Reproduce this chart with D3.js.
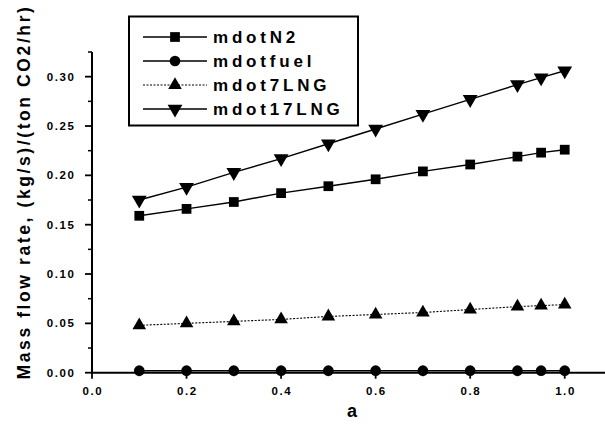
<html>
<head>
<meta charset="utf-8" />
<script src="https://cdn.jsdelivr.net/npm/d3@7"></script>
<style>
body { margin: 0; background: #fff; }
text { font-family: Arial, "Liberation Sans", sans-serif; fill: #000; }
</style>
</head>
<body>
<script>
var aVals = [0.1, 0.2, 0.3, 0.4, 0.5, 0.6, 0.7, 0.8, 0.9, 0.95, 1.0];
var mdotN2 = [0.159, 0.166, 0.173, 0.182, 0.189, 0.196, 0.204, 0.211, 0.219, 0.223, 0.226];
var mdotfuel = [0.002, 0.002, 0.002, 0.002, 0.002, 0.002, 0.002, 0.002, 0.002, 0.002, 0.002];
var mdot7LNG = [0.048, 0.050, 0.052, 0.054, 0.057, 0.059, 0.061, 0.064, 0.067, 0.068, 0.069];
var mdot17LNG = [0.175, 0.188, 0.203, 0.217, 0.232, 0.247, 0.262, 0.277, 0.292, 0.299, 0.306];
var seriesNames = ["mdotN2", "mdotfuel", "mdot7LNG", "mdot17LNG"];
var yTicks = [0.00, 0.05, 0.10, 0.15, 0.20, 0.25, 0.30];
var xTicks = [0.0, 0.2, 0.4, 0.6, 0.8, 1.0];

var series = [
	{name: seriesNames[0], vals: mdotN2, sym: d3.symbolSquare, size: 95, dash: null, rot: 0},
	{name: seriesNames[1], vals: mdotfuel, sym: d3.symbolCircle, size: 90, dash: null, rot: 0},
	{name: seriesNames[2], vals: mdot7LNG, sym: d3.symbolTriangle, size: 80, dash: "2,1.5", rot: 0},
	{name: seriesNames[3], vals: mdot17LNG, sym: d3.symbolTriangle, size: 95, dash: null, rot: 180}
];

var svg = d3.select("body").append("svg").attr("width", 605).attr("height", 427);

var x = d3.scaleLinear().domain([0, 1.1]).range([92, 612]);
var y = d3.scaleLinear().domain([0, 0.325]).range([372.7, 52]);

// axes
var xAxis = svg.append("g").attr("transform", "translate(0,372.7)");
xAxis.append("line").attr("x1", x(0)).attr("x2", 605).attr("stroke", "#000").attr("stroke-width", 2);
xAxis.selectAll(".maj").data(xTicks).enter().append("line")
	.attr("x1", d => x(d)).attr("x2", d => x(d)).attr("y1", 0).attr("y2", 6)
	.attr("stroke", "#000").attr("stroke-width", 1.8);
xAxis.selectAll(".min").data(d3.range(0.1, 1.1, 0.2)).enter().append("line")
	.attr("x1", d => x(d)).attr("x2", d => x(d)).attr("y1", 0).attr("y2", 3.5)
	.attr("stroke", "#000").attr("stroke-width", 1.5);
xAxis.selectAll("text").data(xTicks).enter().append("text")
	.attr("x", d => x(d) + 0.8).attr("y", 22).attr("text-anchor", "middle")
	.attr("font-size", "11.5px").attr("font-weight", "bold").attr("letter-spacing", "1.6px")
	.text(d => d.toFixed(1));

var yAxis = svg.append("g");
yAxis.append("line").attr("x1", 92).attr("x2", 92).attr("y1", y(0)).attr("y2", y(0.325))
	.attr("stroke", "#000").attr("stroke-width", 2);
yAxis.selectAll(".maj").data(yTicks).enter().append("line")
	.attr("x1", 85).attr("x2", 92).attr("y1", d => y(d)).attr("y2", d => y(d))
	.attr("stroke", "#000").attr("stroke-width", 1.8);
yAxis.selectAll(".min").data(d3.range(0.025, 0.33, 0.05)).enter().append("line")
	.attr("x1", 88).attr("x2", 92).attr("y1", d => y(d)).attr("y2", d => y(d))
	.attr("stroke", "#000").attr("stroke-width", 1.5);
yAxis.selectAll("text").data(yTicks).enter().append("text")
	.attr("x", 75.5).attr("y", d => y(d) + 4).attr("text-anchor", "end")
	.attr("font-size", "11.5px").attr("font-weight", "bold").attr("letter-spacing", "1.6px")
	.text(d => d.toFixed(2));

svg.append("text").attr("x", 352).attr("y", 417).attr("text-anchor", "middle")
	.attr("font-size", "18px").attr("font-weight", "bold").text("a");
svg.append("text").attr("transform", "translate(30,192) rotate(-90)").attr("text-anchor", "middle")
	.attr("font-size", "17.5px").attr("font-weight", "bold").attr("letter-spacing", "2.6px")
	.text("Mass flow rate, (kg/s)/(ton CO2/hr)");

var line = d3.line().x((d, i) => x(aVals[i])).y(d => y(d));

series.forEach(function(s) {
	svg.append("path").attr("d", line(s.vals)).attr("fill", "none").attr("stroke", "#000")
		.attr("stroke-width", s.dash ? 1.1 : 1.4).attr("stroke-dasharray", s.dash);
	svg.selectAll(null).data(s.vals).enter().append("path")
		.attr("d", d3.symbol().type(s.sym).size(s.size))
		.attr("transform", (d, i) => `translate(${x(aVals[i])},${y(d)}) rotate(${s.rot})`)
		.attr("fill", "#000");
});

// legend
var legend = svg.append("g");
legend.append("rect").attr("x", 129).attr("y", 16.5).attr("width", 229).attr("height", 109)
	.attr("fill", "#fff").attr("stroke", "#000").attr("stroke-width", 2);
series.forEach(function(s, i) {
	var ly = 37 + i * 24;
	legend.append("line").attr("x1", 143).attr("x2", 207).attr("y1", ly).attr("y2", ly)
		.attr("stroke", "#000").attr("stroke-width", s.dash ? 1.1 : 1.4).attr("stroke-dasharray", s.dash);
	legend.append("path").attr("d", d3.symbol().type(s.sym).size(s.size))
		.attr("transform", `translate(175,${ly}) rotate(${s.rot})`).attr("fill", "#000");
	legend.append("text").attr("x", 213).attr("y", ly + 6)
		.attr("font-size", "17px").attr("font-weight", "bold").attr("letter-spacing", "3.8px")
		.text(s.name);
});
</script>
</body>
</html>
